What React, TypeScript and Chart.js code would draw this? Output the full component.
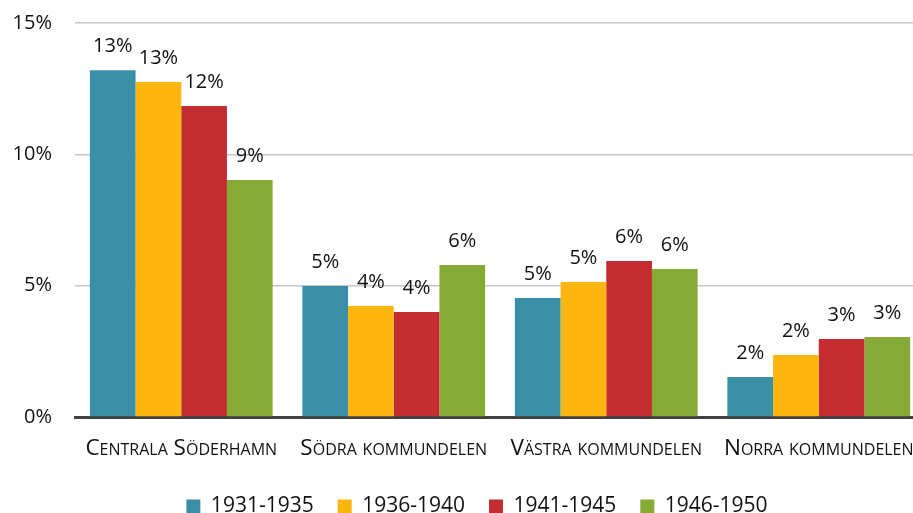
import React, { useEffect, useRef } from "react";
import { Chart, registerables } from "chart.js";

Chart.register(...registerables);

const categories = ["Centrala Söderhamn", "Södra kommundelen", "Västra kommundelen", "Norra kommundelen"];
const seriesNames = ["1931-1935", "1936-1940", "1941-1945", "1946-1950"];
const s1931 = [0.132, 0.0499, 0.0453, 0.0152];
const s1936 = [0.1275, 0.0423, 0.0514, 0.0236];
const s1941 = [0.1184, 0.04, 0.0594, 0.0297];
const s1946 = [0.0902, 0.0579, 0.0563, 0.0305];
const colors = ["#3A8FA6", "#FDB60F", "#C32D31", "#87A935"];
const yTicks = [0, 0.05, 0.1, 0.15];

const FONT = "'Open Sans', 'Noto Sans', sans-serif";

const pct = (v: number) => Math.round(v * 100) + "%";

const labelPlugin = {
  id: "barLabels",
  afterDatasetsDraw(chart: any) {
    const ctx = chart.ctx;
    ctx.save();
    ctx.font = `20px ${FONT}`;
    ctx.fillStyle = "#111";
    ctx.textAlign = "center";
    ctx.textBaseline = "alphabetic";
    chart.data.datasets.forEach((ds: any, i: number) => {
      const meta = chart.getDatasetMeta(i);
      meta.data.forEach((bar: any, j: number) => {
        ctx.fillText(pct(ds.data[j]), bar.x, bar.y - 18);
      });
    });
    ctx.restore();
  },
};

export default function App() {
  const ref = useRef<HTMLCanvasElement>(null);
  useEffect(() => {
    if (!ref.current) return;
    const data = [s1931, s1936, s1941, s1946];
    const chart = new Chart(ref.current, {
      type: "bar",
      data: {
        labels: categories,
        datasets: seriesNames.map((n, i) => ({
          label: n,
          data: data[i],
          backgroundColor: colors[i],
          borderWidth: 0,
          categoryPercentage: 0.86,
          barPercentage: 1,
        })),
      },
      options: {
        responsive: false,
        animation: false,
        devicePixelRatio: 1,
        layout: { padding: { top: 0, right: 0, left: 0, bottom: 0 } },
        plugins: {
          tooltip: { enabled: false },
          legend: {
            position: "bottom",
            labels: {
              font: { family: FONT, size: 21 },
              color: "#111",
              boxWidth: 14,
              boxHeight: 14,
              padding: 24,
            },
          },
        },
        scales: {
          x: {
            grid: { display: false },
            border: { display: true, color: "#404040", width: 3 },
            afterFit(scale: any) {
              scale.height = 55;
            },
            ticks: {
              font: { family: FONT, size: 22.5, weight: "small-caps" as any },
              color: "#111",
              padding: 10,
              maxRotation: 0,
              autoSkip: false,
            },
          },
          y: {
            min: 0,
            max: 0.15,
            afterFit(scale: any) {
              scale.width = 75;
            },
            afterBuildTicks(scale: any) {
              scale.ticks = yTicks.map((v) => ({ value: v }));
            },
            grid: {
              drawTicks: false,
              color: (c: any) => (c.tick && c.tick.value === 0 ? "rgba(0,0,0,0)" : "#c8c8c8"),
              lineWidth: 1.5,
            },
            border: { display: false },
            ticks: {
              font: { family: FONT, size: 20 },
              color: "#111",
              padding: 23,
              callback: (v: any) => pct(Number(v)),
            },
          },
          yRight: {
            position: "right",
            display: true,
            min: 0,
            max: 0.15,
            afterFit(scale: any) {
              scale.width = 29;
            },
            grid: { display: false, drawTicks: false },
            border: { display: false },
            ticks: { display: false },
          },
        },
      },
      plugins: [labelPlugin],
    });
    return () => chart.destroy();
  }, []);
  return (
    <div
      style={{
        position: "fixed",
        left: 0,
        top: 0,
        width: 913,
        height: 513,
        overflow: "hidden",
        background: "#fff",
      }}
    >
      <canvas
        ref={ref}
        width={954}
        height={539}
        style={{ width: 954, height: 539, display: "block", marginTop: -12 }}
      />
    </div>
  );
}
